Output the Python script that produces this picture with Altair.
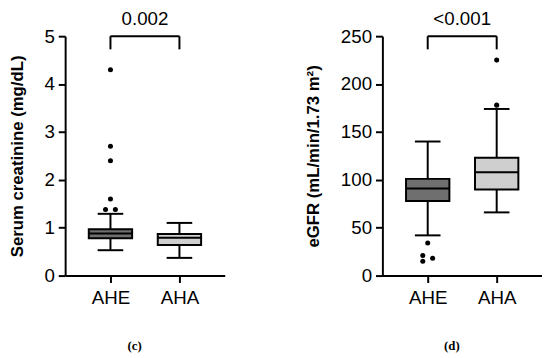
import altair as alt
import pandas as pd

groups = ["AHE", "AHA"]
fills = ["#6f6f6f", "#cfcfcf"]

# Serum creatinine (mg/dL)
crea_lo = [0.53, 0.37]
crea_q1 = [0.78, 0.64]
crea_med = [0.88, 0.79]
crea_q3 = [0.97, 0.87]
crea_hi = [1.29, 1.10]
crea_out_group = ["AHE", "AHE", "AHE", "AHE", "AHE", "AHE"]
crea_out_val = [1.38, 1.38, 1.6, 2.4, 2.7, 4.3]
crea_out_dodge = [-1, 1, 0, 0, 0, 0]
crea_ticks = [0, 1, 2, 3, 4, 5]
crea_p = "0.002"

# eGFR (mL/min/1.73 m2)
egfr_lo = [42, 66]
egfr_q1 = [78, 90]
egfr_med = [91, 108]
egfr_q3 = [101, 123]
egfr_hi = [140, 174]
egfr_out_group = ["AHE", "AHE", "AHE", "AHE", "AHA", "AHA"]
egfr_out_val = [34, 21, 18, 15, 178, 225]
egfr_out_dodge = [0, -1, 1, -1, 0, 0]
egfr_ticks = [0, 50, 100, 150, 200, 250]
egfr_p = "<0.001"

LABEL_FONT = "Liberation Sans"


def panel(lo, q1, med, q3, hi, og, ov, od, ticks, ptext, ytitle, caption):
    stats = pd.DataFrame({"group": groups, "lo": lo, "q1": q1, "med": med,
                          "q3": q3, "hi": hi})
    outs = pd.DataFrame({"group": og, "val": ov, "dodge": od})
    top = ticks[-1]
    drop = (ticks[-1] - ticks[0]) * 0.055
    br = pd.DataFrame({"g1": [groups[0]], "g2": [groups[1]], "top": [top],
                       "leg": [top - drop]})

    yscale = alt.Scale(domain=[ticks[0], ticks[-1]], nice=False)
    xscale = alt.Scale(type="point", domain=groups, padding=0.657)
    x = alt.X("group:N", scale=xscale,
              axis=alt.Axis(labelAngle=0, title=caption, titleX=70,
                            titlePadding=33, titleFont="Liberation Serif",
                            titleFontSize=13, titleFontWeight="bold",
                            labelPadding=6))
    y_axis = alt.Axis(values=ticks, title=ytitle, titleFontWeight="bold",
                      titleFontSize=17, titlePadding=18, labelPadding=4)

    b = alt.Chart(stats)
    whisk = b.mark_rule(color="black", strokeWidth=2).encode(
        x=x, y=alt.Y("lo:Q", scale=yscale, axis=y_axis), y2="hi:Q")
    cap_lo = b.mark_tick(color="black", thickness=2, size=26, opacity=1).encode(
        x=x, y=alt.Y("lo:Q", scale=yscale))
    cap_hi = b.mark_tick(color="black", thickness=2, size=26, opacity=1).encode(
        x=x, y=alt.Y("hi:Q", scale=yscale))
    box = b.mark_bar(size=44, stroke="black", strokeWidth=2, opacity=1).encode(
        x=x, y=alt.Y("q1:Q", scale=yscale), y2="q3:Q",
        color=alt.Color("group:N", scale=alt.Scale(domain=groups, range=fills),
                        legend=None))
    medt = b.mark_tick(color="black", thickness=2, size=44, opacity=1).encode(
        x=x, y=alt.Y("med:Q", scale=yscale))
    pts = alt.Chart(outs).mark_circle(size=26, color="black", opacity=1).encode(
        x=x,
        xOffset=alt.XOffset("dodge:Q", scale=alt.Scale(domain=[-1, 1], range=[-5, 5])),
        y=alt.Y("val:Q", scale=yscale))
    bc = alt.Chart(br)
    bx = alt.X("g1:N", scale=xscale)
    bar_h = bc.mark_rule(color="black", strokeWidth=2).encode(
        x=bx, x2="g2:N", y=alt.Y("top:Q", scale=yscale))
    leg1 = bc.mark_rule(color="black", strokeWidth=2).encode(
        x=bx, y=alt.Y("top:Q", scale=yscale), y2="leg:Q")
    leg2 = bc.mark_rule(color="black", strokeWidth=2).encode(
        x=alt.X("g2:N", scale=xscale), y=alt.Y("top:Q", scale=yscale), y2="leg:Q")

    return alt.layer(whisk, cap_lo, cap_hi, box, medt, pts, bar_h, leg1, leg2).properties(
        width=162, height=243,
        title=alt.TitleParams(ptext, fontSize=19, fontWeight="normal",
                              font=LABEL_FONT, color="black", offset=-2))


left = panel(crea_lo, crea_q1, crea_med, crea_q3, crea_hi, crea_out_group,
             crea_out_val, crea_out_dodge, crea_ticks, crea_p,
             "Serum creatinine (mg/dL)", "(c)")
right = panel(egfr_lo, egfr_q1, egfr_med, egfr_q3, egfr_hi, egfr_out_group,
              egfr_out_val, egfr_out_dodge, egfr_ticks, egfr_p,
              "eGFR (mL/min/1.73 m²)", "(d)")

chart = alt.hconcat(left, right, spacing=81).properties(padding=0).configure_view(
    stroke=None).configure_axis(
    domainColor="black", domainWidth=2, tickColor="black", tickWidth=2,
    tickSize=7, labelColor="black", labelFont=LABEL_FONT, labelFontSize=19,
    titleColor="black", titleFont=LABEL_FONT, grid=False)

chart.save("out.html", embed_options={"renderer": "svg", "actions": False})
